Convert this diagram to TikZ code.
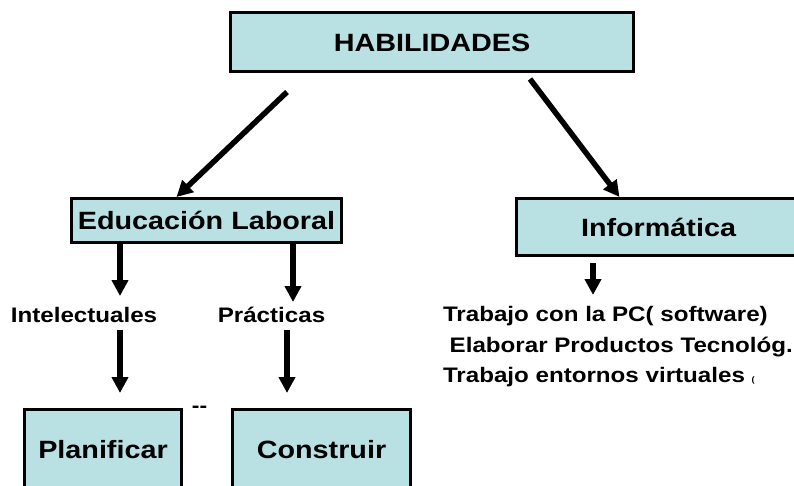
\documentclass[tikz,border=0pt]{standalone}
\usepackage{fontspec}
\setmainfont{Liberation Sans}[FakeStretch=1.15]
\usetikzlibrary{arrows.meta, positioning}
\definecolor{boxblue}{RGB}{185,224,226}
\tikzstyle{box} = [rectangle, draw=black, line width=3pt, fill=boxblue, inner sep=0pt, outer sep=0pt, text centered, font=\fontsize{25}{30}\selectfont\bfseries]
\tikzstyle{skill} = [inner sep=0pt, outer sep=0pt, font=\fontsize{21}{30.5}\selectfont\bfseries]
\tikzstyle{arrow} = [line width=5.5pt, -{Triangle[width=16pt,length=16pt]}]

\begin{document}
\begin{tikzpicture}[x=1pt, y=-1pt]
\useasboundingbox (0,0) rectangle (794,486);
\clip (0,0) rectangle (794,486);

\node (habil) [box, minimum width=403pt, minimum height=59pt] at (432,42.5) {HABILIDADES};
\node (edu) [box, minimum width=270pt, minimum height=44pt] at (206.5,220.5) {Educación Laboral};
\node (info) [box, anchor=west, minimum width=300pt, minimum height=57pt] at (516.5,227) {Informática\hspace*{16pt}};

\node (intel) [skill, anchor=base, text height=15pt, text depth=4pt] at (84,322) {Intelectuales};
\node (prac) [skill, anchor=base, text height=15pt, text depth=4pt] at (271.5,322) {Prácticas};
\node (tasks) [skill, anchor=north west, align=left] at (443,306.7) {Trabajo con la PC( software)\\\hspace*{6.7pt}Elaborar Productos Tecnológ.\\Trabajo entornos virtuales {\fontsize{8}{8}\selectfont (}};

\node (plan) [box, anchor=north, minimum width=157pt, text height=48.5pt, text depth=60pt] at (103,409.5) {Planificar};
\node (cons) [box, anchor=north, minimum width=178pt, text height=48.5pt, text depth=60pt] at (321.5,409.5) {Construir};
\node (gap) [anchor=base, inner sep=0pt, font=\fontsize{20}{20}\selectfont\bfseries] at (199.5,412) {-{}-};

\draw [arrow] ([xshift=-145pt,yshift=-20pt]habil.south) -- ([xshift=-30pt,yshift=1.5pt]edu.north);
\draw [arrow] ([xshift=98pt,yshift=-7pt]habil.south) -- ([xshift=-47pt,yshift=1.5pt]info.north);
\draw [arrow] ([xshift=-86.5pt,yshift=-1pt]edu.south) -- ([xshift=36pt,yshift=11pt]intel.north);
\draw [arrow] ([xshift=86.5pt,yshift=-1pt]edu.south) -- ([xshift=21.5pt,yshift=5pt]prac.north);
\draw [arrow] ([xshift=36pt,yshift=-4pt]intel.south) -- ([xshift=17pt,yshift=16.5pt]plan.north);
\draw [arrow] ([xshift=15.5pt,yshift=-4pt]prac.south) -- ([xshift=-34.5pt,yshift=16.5pt]cons.north);
\draw [arrow] ([xshift=-73.5pt,yshift=-7.5pt]info.south) -- ([xshift=150pt,yshift=11.7pt]tasks.north west);

\end{tikzpicture}
\end{document}
